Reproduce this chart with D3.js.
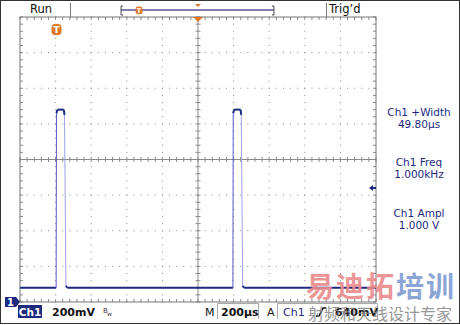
<!DOCTYPE html>
<html>
<head>
<meta charset="utf-8">
<script src="https://cdn.jsdelivr.net/npm/d3@7"></script>
<style>
  body { margin: 0; background: #fff; }
  svg { display: block; }
</style>
</head>
<body>
<div id="scope"></div>
<script>
// waveform (time in us, level in V)
const timeUs = [0, 203, 205, 210, 246, 250, 258, 266, 1196, 1198, 1203, 1239, 1243, 1251, 1259, 2000];
const volts  = [0.08, 0.08, 1.06, 1.08, 1.08, 1.05, 0.09, 0.08, 0.08, 1.06, 1.08, 1.08, 1.05, 0.09, 0.08, 0.08];

const timeDomain = [0, 2000];   // 10 div x 200us
const voltDomain = [0, 1.6];    // 8 div x 200mV
const triggerLevel = 0.64;
const triggerTime = 205;

const measLabels = ["Ch1 +Width", "Ch1 Freq", "Ch1 Ampl"];
const measValues = ["49.80\u00b5s", "1.000kHz", "1.000 V"];

const W = 460, H = 325;
const plotL = 20, plotR = 376, plotT = 17, plotB = 302;
const navy = "#1d2a80";
const gridCol = "#8a8a8a";

const svg = d3.select("#scope").append("svg")
    .attr("width", W).attr("height", H)
    .style("font-family", "'DejaVu Sans', sans-serif");

svg.append("rect").attr("x", 0.5).attr("y", 0.5).attr("width", W - 1).attr("height", H - 2)
    .attr("fill", "#fff").attr("stroke", "#333");

const x = d3.scaleLinear().domain(timeDomain).range([plotL, plotR]);
const y = d3.scaleLinear().domain(voltDomain).range([plotB, plotT]);

const g = svg.append("g");

// dotted graticule
const majorT = d3.range(timeDomain[0], timeDomain[1] + 1, 200);
const majorV = d3.range(0, 1.6001, 0.2);
const minorT = d3.range(timeDomain[0], timeDomain[1] + 1, 40);
const minorV = d3.range(0, 1.6001, 0.04);

majorT.slice(1, -1).forEach(t => {
    if (t === 1000) return;
    g.selectAll(null).data(minorV).enter().append("rect")
        .attr("x", x(t) - 0.5).attr("y", d => y(d) - 0.5)
        .attr("width", 1).attr("height", 1).attr("fill", gridCol);
});
majorV.slice(1, -1).forEach(v => {
    if (Math.abs(v - 0.8) < 1e-6) return;
    g.selectAll(null).data(minorT).enter().append("rect")
        .attr("x", d => x(d) - 0.5).attr("y", y(v) - 0.5)
        .attr("width", 1).attr("height", 1).attr("fill", gridCol);
});

// centre cross with ticks
g.append("line").attr("x1", plotL).attr("x2", plotR).attr("y1", y(0.8)).attr("y2", y(0.8))
    .attr("stroke", gridCol);
g.append("line").attr("x1", x(1000)).attr("x2", x(1000)).attr("y1", plotT).attr("y2", plotB)
    .attr("stroke", gridCol);
g.selectAll(null).data(minorT).enter().append("line")
    .attr("x1", d => x(d)).attr("x2", d => x(d))
    .attr("y1", y(0.8) - 2.5).attr("y2", y(0.8) + 2.5).attr("stroke", gridCol);
g.selectAll(null).data(minorV).enter().append("line")
    .attr("y1", d => y(d)).attr("y2", d => y(d))
    .attr("x1", x(1000) - 2.5).attr("x2", x(1000) + 2.5).attr("stroke", gridCol);

// frame ticks
g.selectAll(null).data(minorT).enter().append("line")
    .attr("x1", d => x(d)).attr("x2", d => x(d)).attr("y1", plotT).attr("y2", plotT + 3).attr("stroke", gridCol);
g.selectAll(null).data(minorT).enter().append("line")
    .attr("x1", d => x(d)).attr("x2", d => x(d)).attr("y1", plotB).attr("y2", plotB - 3).attr("stroke", gridCol);
g.selectAll(null).data(minorV).enter().append("line")
    .attr("y1", d => y(d)).attr("y2", d => y(d)).attr("x1", plotL).attr("x2", plotL + 3).attr("stroke", gridCol);
g.selectAll(null).data(minorV).enter().append("line")
    .attr("y1", d => y(d)).attr("y2", d => y(d)).attr("x1", plotR).attr("x2", plotR - 3).attr("stroke", gridCol);

g.append("rect").attr("x", plotL).attr("y", plotT).attr("width", plotR - plotL).attr("height", plotB - plotT)
    .attr("fill", "none").attr("stroke", "#777");

// trace, segment by segment so edges come out fainter
const pts = timeUs.map((t, i) => [t, volts[i]]);
const segs = d3.pairs(pts);
const line = d3.line().x(d => x(d[0])).y(d => y(d[1]));
svg.append("g").selectAll("path").data(segs).enter().append("path")
    .attr("d", d => line(d))
    .attr("fill", "none")
    .attr("stroke", d => {
        const dv = d[1][1] - d[0][1];
        if (dv > 0.3) return "#5a5ac8";
        if (dv < -0.3) return "#a0a0e6";
        return navy;
    })
    .attr("stroke-width", d => Math.abs(d[1][1] - d[0][1]) > 0.3 ? 1 : 2);

// trigger level arrow (right side)
const ty = y(triggerLevel);
svg.append("path").attr("d", `M${plotR - 7},${ty} l4,-3 v2 h3 v2 h-3 v2 z`).attr("fill", navy);

// trigger position marker
function tMarker(cx, cy, s) {
    const m = svg.append("g").attr("transform", `translate(${cx},${cy})`);
    m.append("rect").attr("x", -s / 2).attr("y", -s / 2).attr("width", s).attr("height", s * 1.1)
        .attr("rx", s * 0.35).attr("fill", "#e0782a");
    m.append("text").attr("y", s * 0.38).attr("text-anchor", "middle")
        .attr("font-size", s * 0.95).attr("font-weight", "bold").attr("fill", "#fff").text("T");
}
tMarker(x(triggerTime), 29, 10);

// top bar
svg.append("text").attr("x", 30).attr("y", 13).attr("font-size", 11.5).attr("fill", "#111").text("Run");
svg.append("line").attr("x1", 70.5).attr("x2", 70.5).attr("y1", 3).attr("y2", 17).attr("stroke", "#777");
svg.append("line").attr("x1", 326.5).attr("x2", 326.5).attr("y1", 3).attr("y2", 17).attr("stroke", "#777");
svg.append("text").attr("x", 329).attr("y", 13).attr("font-size", 11.5).attr("fill", "#111").text("Trig\u2019d");

const recX = d3.scaleLinear().domain(timeDomain).range([124, 271]);
svg.append("line").attr("x1", recX(-40)).attr("x2", recX(2040)).attr("y1", 10).attr("y2", 10)
    .attr("stroke", "#8080b0").attr("stroke-width", 2);
svg.append("path").attr("d", `M${recX(-40) + 2},6 h-2 v9 h2`).attr("fill", "none").attr("stroke", "#444");
svg.append("path").attr("d", `M${recX(2040) - 2},6 h2 v9 h-2`).attr("fill", "none").attr("stroke", "#444");
tMarker(recX(triggerTime), 10, 7);
svg.append("path").attr("d", `M${x(1000) - 3},4 h6 l-3,3 z`).attr("fill", "#e0782a");
svg.append("path").attr("d", `M${x(1000) - 5},${plotT} h10 l-5,5 z`).attr("fill", "#e0782a");

// measurement panel
const panel = svg.append("g").attr("fill", navy).attr("font-size", 10.5).attr("text-anchor", "middle");
const panelY = [116, 166, 217];
measLabels.forEach((lab, i) => {
    panel.append("text").attr("x", 419).attr("y", panelY[i]).text(lab);
    panel.append("text").attr("x", 419).attr("y", panelY[i] + 12).text(measValues[i]);
});

// channel ground marker
svg.append("path").attr("d", `M5,${y(0) - 5} h11 l4,5 l-4,5 h-11 z`).attr("fill", navy);
svg.append("text").attr("x", 10.5).attr("y", y(0) + 4).attr("text-anchor", "middle")
    .attr("font-size", 10).attr("font-weight", "bold").attr("fill", "#fff").text("1");

// bottom bar
svg.append("rect").attr("x", 18).attr("y", 305).attr("width", 24).attr("height", 13).attr("fill", navy);
svg.append("path").attr("d", "M217.5,319 V303.5 H258.5 V319").attr("fill", "none").attr("stroke", "#aaa");
svg.append("path").attr("d", "M277.5,319 V303.5 H377.5 V319").attr("fill", "none").attr("stroke", "#aaa");
const bb = svg.append("g").attr("font-size", 11).attr("font-weight", "bold").attr("fill", "#111");
bb.append("text").attr("x", 30).attr("y", 316).attr("text-anchor", "middle")
    .attr("font-size", 10.5).attr("fill", "#fff").text("Ch1");
bb.append("text").attr("x", 52).attr("y", 316).text("200mV");
svg.append("text").attr("x", 103).attr("y", 313).attr("font-size", 7).attr("fill", "#333").text("B");
svg.append("text").attr("x", 107).attr("y", 316).attr("font-size", 6).attr("fill", "#333").text("w");
bb.append("text").attr("x", 205).attr("y", 316).attr("font-weight", "normal").text("M");
bb.append("text").attr("x", 221).attr("y", 316).text("200\u00b5s");
bb.append("text").attr("x", 267).attr("y", 316).attr("font-weight", "normal").text("A");
bb.append("text").attr("x", 283).attr("y", 316).attr("font-weight", "normal").attr("fill", navy).text("Ch1");
svg.append("path").attr("d", "M316,316 h3 l4,-8 h3").attr("fill", "none").attr("stroke", "#111").attr("stroke-width", 1.6);
bb.append("text").attr("x", 335).attr("y", 316).text("640mV");

// watermark
const wm = svg.append("g").attr("font-family", "'Noto Sans CJK SC', sans-serif").attr("font-weight", "bold");
wm.append("text").attr("x", 306).attr("y", 297).attr("font-size", 28).attr("letter-spacing", 2)
    .attr("fill", "#e98a8c").attr("opacity", 0.9).text("易迪拓");
wm.append("text").attr("x", 396).attr("y", 297).attr("font-size", 28).attr("letter-spacing", 2)
    .attr("fill", "#7f9dd2").attr("opacity", 0.9).text("培训");
wm.append("text").attr("x", 308).attr("y", 320).attr("font-size", 16).attr("font-weight", "normal")
    .attr("fill", "#8c8c8c").attr("opacity", 0.9).text("射频和天线设计专家");
</script>
</body>
</html>
